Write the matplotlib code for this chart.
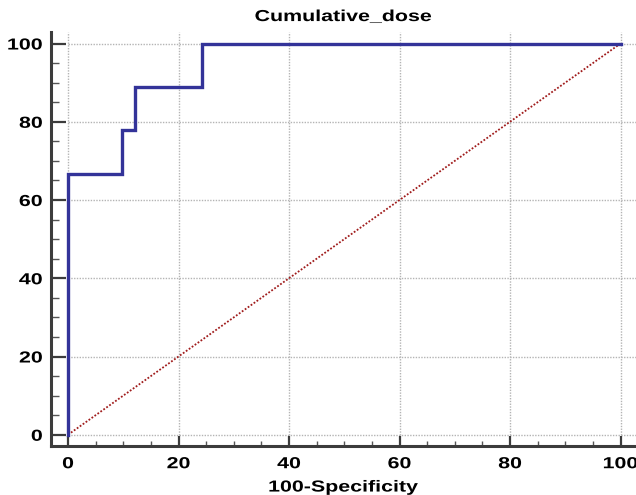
import matplotlib
matplotlib.use("Agg")
import matplotlib.pyplot as plt
from matplotlib.ticker import MultipleLocator
from matplotlib.patheffects import AbstractPathEffect
from matplotlib.transforms import Affine2D

# ROC curve points (100-Specificity, Sensitivity)
fpr = [0, 0, 9.7, 9.7, 12.1, 12.1, 24.2, 24.2, 100]
tpr = [0, 66.7, 66.7, 77.8, 77.8, 88.9, 88.9, 100, 100]
ref_line = [0, 100]
ticks = [0, 20, 40, 60, 80, 100]


class Stretch(AbstractPathEffect):
    """widen text horizontally around its centre or right edge"""
    def __init__(self, sx, anchor='center'):
        super().__init__()
        self.sx = sx
        self.anchor = anchor

    def draw_path(self, renderer, gc, tpath, affine, rgbFace=None):
        ext = tpath.get_extents()
        cx = ext.x1 if self.anchor == 'right' else (ext.x0 + ext.x1) / 2
        tr = Affine2D().translate(-cx, 0).scale(self.sx, 1).translate(cx, 0) + affine
        renderer.draw_path(gc, tpath, tr, rgbFace)


plt.rcParams['font.family'] = ['Liberation Sans', 'DejaVu Sans']
plt.rcParams['font.weight'] = 'bold'
SX = 1.34
FS = 11.5

fig = plt.figure(figsize=(6.36, 4.95), dpi=100)
ax = fig.add_axes([0.080, 0.098, 0.920, 0.837])

xmin, xmax = -3.1, 102.8
ymin, ymax = -3.0, 102.9
ax.set_xlim(xmin, xmax)
ax.set_ylim(ymin, ymax)

# grid lines, starting at the origin like the original
grid_kw = dict(color='#b4b4b4', linestyle=(0, (1.0, 1.0)), linewidth=1.0, zorder=1)
ax.vlines(ticks, 0, ymax, **grid_kw)
ax.hlines(ticks, 0, xmax, **grid_kw)

ax.plot(ref_line, ref_line, color='#a01c1c', linestyle=(0, (1, 1)), linewidth=1.3, zorder=2)
ax.plot(fpr, tpr, color='#333399', linewidth=2.4, zorder=3, solid_joinstyle='miter')

for s in ['top', 'right']:
    ax.spines[s].set_visible(False)
for s in ['left', 'bottom']:
    ax.spines[s].set_color('#3c3c3c')
    ax.spines[s].set_linewidth(2.2)

ax.set_xticks(ticks)
ax.set_yticks(ticks)
ax.xaxis.set_minor_locator(MultipleLocator(5))
ax.yaxis.set_minor_locator(MultipleLocator(5))
ax.tick_params(axis='y', which='major', direction='in', length=11, width=1.6,
               color='#3c3c3c', pad=6, labelsize=FS)
ax.tick_params(axis='y', which='minor', direction='in', length=6, width=1.0, color='#555555')
ax.tick_params(axis='x', which='major', direction='in', length=7.5, width=1.6,
               color='#3c3c3c', pad=7, labelsize=FS)
ax.tick_params(axis='x', which='minor', direction='in', length=3.5, width=1.0, color='#555555')

title = ax.set_title('Cumulative_dose', fontsize=FS, fontweight='bold', pad=8)
xlab = ax.set_xlabel('100-Specificity', fontsize=FS, fontweight='bold', labelpad=6)
title.set_path_effects([Stretch(SX)])
xlab.set_path_effects([Stretch(SX)])

fig.canvas.draw()
for lbl in ax.get_xticklabels():
    lbl.set_path_effects([Stretch(SX)])
for lbl in ax.get_yticklabels():
    lbl.set_path_effects([Stretch(SX, 'right')])

fig.savefig('out.png', dpi=100)
